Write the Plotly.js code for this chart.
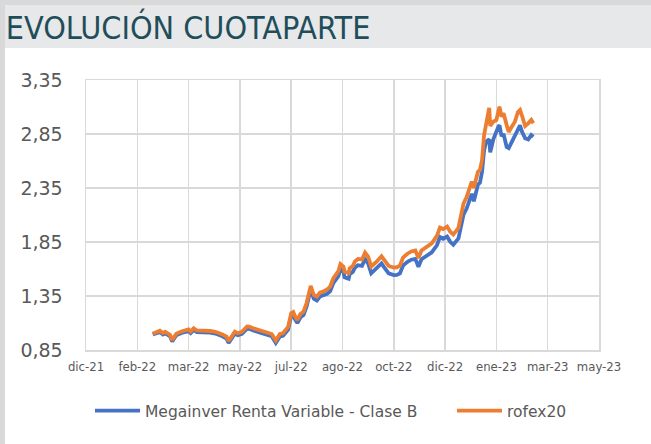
<!DOCTYPE html>
<html>
<head>
<meta charset="utf-8">
<script src="https://cdn.plot.ly/plotly-3.0.1.min.js"></script>
<style>
  html, body { margin: 0; padding: 0; background: #ffffff; }
  #frame { position: relative; width: 651px; height: 444px; background: #d9d9d9; overflow: hidden; }
  #inner { position: absolute; left: 5px; top: 5px; right: 0; bottom: 0; background: #ffffff; }
  #band { position: absolute; left: 5px; top: 5px; right: 0; height: 43px; background: #e7e8e9; }
  #chart { position: absolute; left: 0; top: 0; width: 651px; height: 444px; }
</style>
</head>
<body>
<div id="frame">
  <div id="inner"></div>
  <div id="band"></div>
  <div id="chart"></div>
</div>
<script>
const titleText = "EVOLUCIÓN CUOTAPARTE";
const seriesNames = ["Megainver Renta Variable - Clase B", "rofex20"];

const dates = [
  "2022-02-23","2022-02-28","2022-03-02","2022-03-05","2022-03-07","2022-03-10","2022-03-12","2022-03-14","2022-03-18","2022-03-23",
  "2022-03-26","2022-03-30","2022-04-01","2022-04-04","2022-04-07","2022-04-12","2022-04-15","2022-04-20","2022-04-25","2022-04-30",
  "2022-05-02","2022-05-06","2022-05-08","2022-05-11","2022-05-14","2022-05-17","2022-05-21","2022-05-26","2022-05-28","2022-06-01",
  "2022-06-04","2022-06-08","2022-06-11","2022-06-14","2022-06-19","2022-06-23","2022-06-27","2022-06-30","2022-07-02","2022-07-05",
  "2022-07-08","2022-07-10","2022-07-12","2022-07-14","2022-07-17","2022-07-20","2022-07-23","2022-07-25","2022-07-27","2022-07-30",
  "2022-08-02","2022-08-05","2022-08-08","2022-08-12","2022-08-15","2022-08-18","2022-08-23","2022-08-25","2022-08-28","2022-08-29",
  "2022-09-02","2022-09-03","2022-09-06","2022-09-08","2022-09-11","2022-09-15","2022-09-18","2022-09-21","2022-09-24","2022-09-29",
  "2022-10-04","2022-10-07","2022-10-11","2022-10-16","2022-10-19","2022-10-22","2022-10-25","2022-10-29","2022-11-02","2022-11-06",
  "2022-11-09","2022-11-12","2022-11-17","2022-11-22","2022-11-27","2022-11-30","2022-12-03","2022-12-07","2022-12-10","2022-12-13",
  "2022-12-18","2022-12-21","2022-12-23","2022-12-26","2022-12-29","2022-12-31","2023-01-02","2023-01-05","2023-01-06","2023-01-08",
  "2023-01-10","2023-01-12","2023-01-14","2023-01-17","2023-01-18","2023-01-21","2023-01-24","2023-01-26","2023-01-27","2023-01-29",
  "2023-01-31","2023-02-03","2023-02-05","2023-02-08","2023-02-11","2023-02-14","2023-02-16","2023-02-18","2023-02-21","2023-02-24",
  "2023-02-27","2023-03-01"
];

const megainver = [
  0.995,1.006,1.016,0.994,1.005,0.989,0.975,0.929,0.986,1.007,
  1.014,1.025,1.006,1.036,1.016,1.015,1.010,1.010,1.002,0.990,
  0.977,0.955,0.915,0.957,1.000,0.986,1.000,1.048,1.046,1.031,
  1.022,1.014,1.000,0.991,0.977,0.916,0.975,0.982,1.005,1.038,
  1.164,1.175,1.130,1.099,1.153,1.174,1.253,1.342,1.409,1.324,
  1.308,1.345,1.352,1.370,1.396,1.468,1.534,1.597,1.571,1.524,
  1.510,1.552,1.573,1.611,1.635,1.629,1.690,1.652,1.560,1.600,
  1.651,1.611,1.559,1.544,1.545,1.560,1.632,1.664,1.686,1.694,
  1.620,1.690,1.721,1.754,1.820,1.896,1.880,1.900,1.852,1.825,
  1.884,2.038,2.106,2.160,2.251,2.296,2.228,2.350,2.380,2.400,
  2.500,2.700,2.780,2.800,2.680,2.800,2.880,2.920,2.930,2.830,
  2.850,2.730,2.720,2.780,2.840,2.910,2.930,2.870,2.810,2.800,
  2.840,2.825
];

const rofex20 = [
  1.000,1.019,1.029,1.007,1.019,1.003,0.989,0.943,1.000,1.021,
  1.029,1.040,1.021,1.051,1.031,1.031,1.026,1.026,1.019,1.007,
  0.994,0.973,0.933,0.975,1.019,1.005,1.019,1.068,1.066,1.051,
  1.042,1.035,1.021,1.012,0.998,0.938,0.998,1.005,1.029,1.063,
  1.190,1.202,1.158,1.128,1.183,1.205,1.285,1.375,1.443,1.359,
  1.344,1.382,1.390,1.410,1.438,1.512,1.581,1.646,1.621,1.575,
  1.563,1.606,1.628,1.668,1.693,1.688,1.751,1.714,1.623,1.665,
  1.718,1.679,1.628,1.614,1.616,1.632,1.706,1.739,1.762,1.771,
  1.702,1.771,1.804,1.838,1.906,1.984,1.970,1.992,1.945,1.919,
  1.980,2.137,2.208,2.267,2.362,2.410,2.350,2.470,2.501,2.517,
  2.609,2.841,2.952,3.091,2.924,2.964,2.980,3.086,3.103,3.010,
  3.042,2.933,2.869,2.918,2.964,3.054,3.072,3.017,2.924,2.949,
  2.980,2.949
];

const xTickVals = ["2021-12-20","2022-02-08","2022-03-30","2022-05-19","2022-07-08","2022-08-27",
                   "2022-10-16","2022-12-05","2023-01-24","2023-03-15","2023-05-04"];
const xTickText = ["dic-21","feb-22","mar-22","may-22","jul-22","ago-22",
                   "oct-22","dic-22","ene-23","mar-23","may-23"];
const yTickVals = [0.85, 1.35, 1.85, 2.35, 2.85, 3.35];

const traces = [
  { x: dates, y: megainver, name: seriesNames[0], type: "scatter", mode: "lines",
    legend: "legend",
    line: { color: "#4472C4", width: 3.8 } },
  { x: dates, y: rofex20, name: seriesNames[1], type: "scatter", mode: "lines",
    legend: "legend2",
    line: { color: "#ED7D31", width: 3.8 } }
];

const legendFont = { family: "DejaVu Sans, sans-serif", size: 15.5, color: "#595959" };

const layout = {
  width: 651, height: 444,
  paper_bgcolor: "rgba(0,0,0,0)",
  plot_bgcolor: "rgba(0,0,0,0)",
  separators: ",.",
  margin: { l: 86, r: 52, t: 80, b: 94 },
  title: {
    text: titleText,
    xref: "container", yref: "container",
    x: 0.009, xanchor: "left", y: 1 - 28/444, yanchor: "middle",
    font: { family: "Liberation Sans Narrow, DejaVu Sans Condensed, sans-serif", size: 32, color: "#1f4e5a" }
  },
  xaxis: {
    type: "date",
    range: [xTickVals[0], xTickVals[xTickVals.length - 1]],
    tickmode: "array", tickvals: xTickVals, ticktext: xTickText,
    showgrid: true, gridcolor: "#d9d9d9", gridwidth: 1.5,
    showline: true, linecolor: "#d9d9d9", linewidth: 1.5, mirror: true,
    ticks: "outside", ticklen: 4, tickcolor: "rgba(0,0,0,0)",
    tickfont: { family: "DejaVu Sans Condensed, DejaVu Sans, sans-serif", size: 13, color: "#595959" },
    zeroline: false, fixedrange: true
  },
  yaxis: {
    range: [0.85, 3.35],
    tickmode: "array", tickvals: yTickVals,
    tickformat: ".2f",
    showgrid: true, gridcolor: "#d9d9d9", gridwidth: 1.5,
    showline: true, linecolor: "#d9d9d9", linewidth: 1.5, mirror: true,
    ticks: "outside", ticklen: 18, tickcolor: "rgba(0,0,0,0)",
    tickfont: { family: "DejaVu Sans, sans-serif", size: 19, color: "#595959" },
    zeroline: false, fixedrange: true
  },
  showlegend: true,
  legend: {
    orientation: "h",
    xref: "container", yref: "container",
    x: 90/651, xanchor: "left", y: 1 - 411/444, yanchor: "middle",
    font: legendFont, itemwidth: 45,
    bgcolor: "rgba(0,0,0,0)"
  },
  legend2: {
    orientation: "h",
    xref: "container", yref: "container",
    x: 452/651, xanchor: "left", y: 1 - 411/444, yanchor: "middle",
    font: legendFont, itemwidth: 45,
    bgcolor: "rgba(0,0,0,0)"
  }
};

Plotly.newPlot("chart", traces, layout, { displayModeBar: false, staticPlot: true });
</script>
</body>
</html>
